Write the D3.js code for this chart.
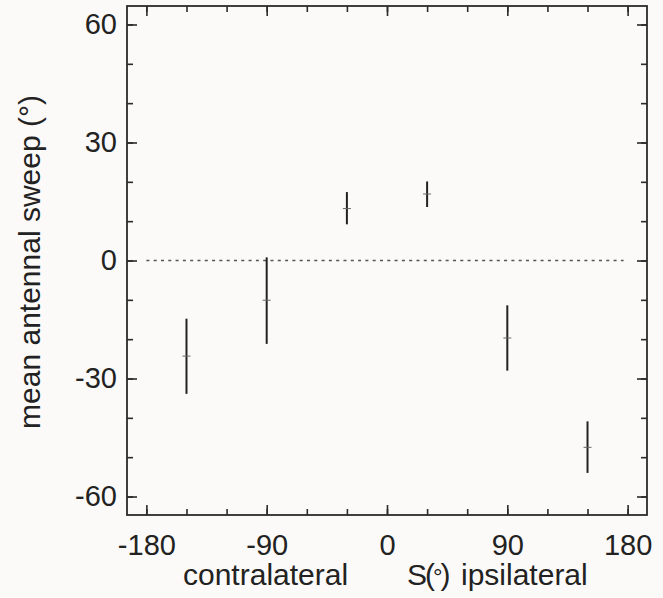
<!DOCTYPE html>
<html>
<head>
<meta charset="utf-8">
<script src="https://cdn.jsdelivr.net/npm/d3@7"></script>
<style>
  body { margin: 0; background: #fcfaf8; }
  svg text { font-family: "Liberation Sans", Arial, Helvetica, sans-serif; fill: #222; }
</style>
</head>
<body>
<div id="chart"></div>
<script>
// stimulus angle S (deg) and mean antennal sweep (deg) with bar ends
const stimAngles = [-150, -90, -30, 30, 90, 150];
const meanSweep  = [-24.3, -10.1, 13.2, 16.9, -19.7, -47.5];
const sweepLow   = [-33.9, -21.2, 9.2, 13.6, -28.0, -54.0];
const sweepHigh  = [-14.8, 0.8, 17.4, 20.1, -11.4, -40.9];

const xTickLabels = [-180, -90, 0, 90, 180];
const yTickLabels = [-60, -30, 0, 30, 60];

const W = 663, H = 598;
const frame = {left: 127, right: 647, top: 6, bottom: 515};

const svg = d3.select("#chart").append("svg")
    .attr("width", W)
    .attr("height", H)
    .attr("viewBox", "0 0 " + W + " " + H);

const x = d3.scaleLinear().domain([-194.5, 194.5]).range([frame.left, frame.right]);
const y = d3.scaleLinear().domain([-64.7, 64.7]).range([frame.bottom, frame.top]);

const ink = "#2b2b2b";

// minor + major ticks on all four sides, pointing inward
function ticks(axisFn, scale, vals, size, pos, labels, pad) {
    let a = axisFn(scale).tickValues(vals).tickSize(-size).tickPadding(pad || 0);
    // plain hyphen as in the original, not the unicode minus
    a.tickFormat(labels ? (d => String(d)) : "");
    let g = svg.append("g").attr("transform", pos).call(a);
    g.select(".domain").remove();
    g.selectAll(".tick line").attr("stroke", ink).attr("stroke-width", 1.6);
    g.selectAll("text").attr("font-size", 29).style("font-family", null).attr("fill", "#222");
    return g;
}

const xMinor = d3.range(-180, 181, 30);
const yMinor = d3.range(-60, 61, 10);

ticks(d3.axisBottom, x, xMinor, 6, `translate(0,${frame.bottom})`, false);
ticks(d3.axisTop, x, xMinor, 6, `translate(0,${frame.top})`, false);
ticks(d3.axisBottom, x, xTickLabels, 10, `translate(0,${frame.bottom})`, true, 19);
ticks(d3.axisTop, x, xTickLabels, 10, `translate(0,${frame.top})`, false);

ticks(d3.axisLeft, y, yMinor, 6, `translate(${frame.left},0)`, false);
ticks(d3.axisRight, y, yMinor, 6, `translate(${frame.right},0)`, false);
ticks(d3.axisLeft, y, yTickLabels, 10, `translate(${frame.left},0)`, true, 10);
ticks(d3.axisRight, y, yTickLabels, 10, `translate(${frame.right},0)`, false);

// frame
svg.append("rect")
    .attr("x", frame.left).attr("y", frame.top)
    .attr("width", frame.right - frame.left)
    .attr("height", frame.bottom - frame.top)
    .attr("fill", "none")
    .attr("stroke", ink)
    .attr("stroke-width", 1.8);

// zero reference line
svg.append("line")
    .attr("x1", x(-180)).attr("x2", x(177))
    .attr("y1", y(0)).attr("y2", y(0))
    .attr("stroke", "#555")
    .attr("stroke-width", 1.5)
    .attr("stroke-dasharray", "3,4.3");

const data = stimAngles.map((s, i) => ({s: s, m: meanSweep[i], lo: sweepLow[i], hi: sweepHigh[i]}));

const bars = svg.append("g").selectAll("g").data(data).enter().append("g");
bars.append("line")
    .attr("x1", d => x(d.s)).attr("x2", d => x(d.s))
    .attr("y1", d => y(d.lo)).attr("y2", d => y(d.hi))
    .attr("stroke", "#222")
    .attr("stroke-width", 2);
bars.append("line")
    .attr("x1", d => x(d.s) - 4).attr("x2", d => x(d.s) + 4)
    .attr("y1", d => y(d.m)).attr("y2", d => y(d.m))
    .attr("stroke", "#666")
    .attr("stroke-width", 1);

// axis titles
svg.append("text")
    .attr("transform", "translate(40,262) rotate(-90)")
    .attr("text-anchor", "middle")
    .attr("font-size", 30)
    .text("mean antennal sweep (°)");

const xt = svg.append("text")
    .attr("y", 585)
    .attr("font-size", 30);
xt.append("tspan").attr("x", 183).text("contralateral");
const sLab = xt.append("tspan").attr("x", 407).attr("letter-spacing", -2);
sLab.append("tspan").text("S(");
sLab.append("tspan").attr("font-size", 24).text("°");
sLab.append("tspan").text(")");
xt.append("tspan").attr("x", 461).attr("letter-spacing", 0).text("ipsilateral");
</script>
</body>
</html>
